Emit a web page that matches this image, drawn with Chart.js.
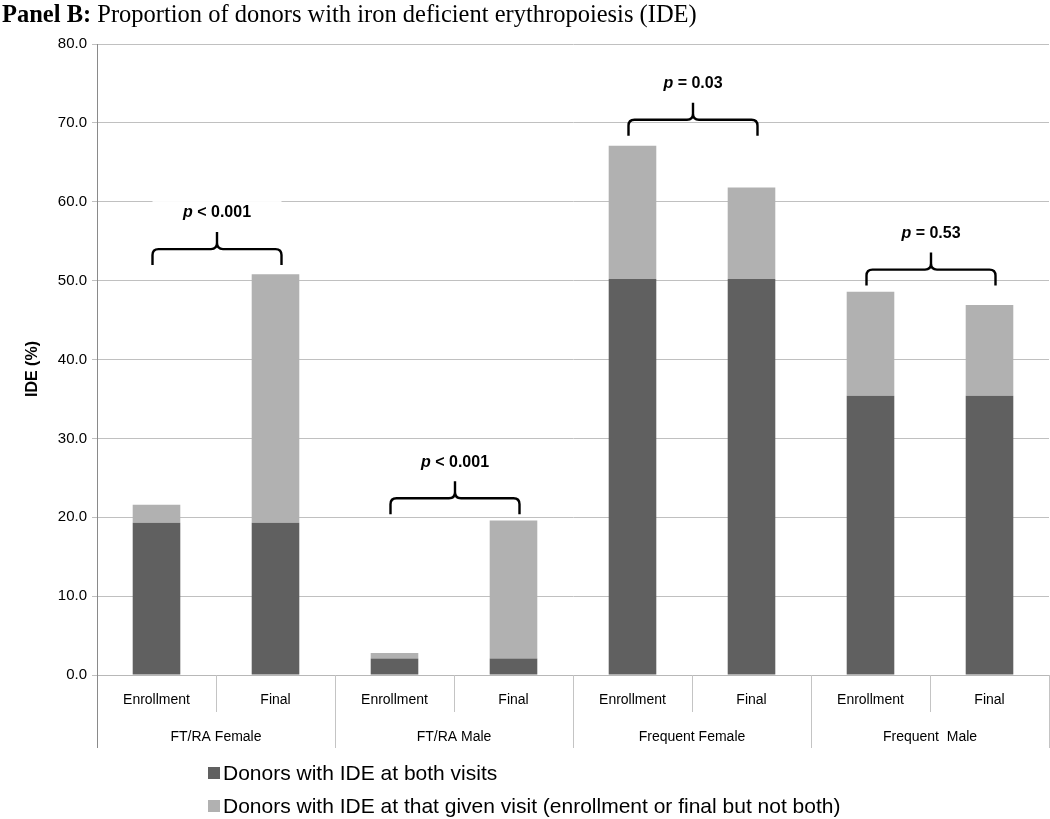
<!DOCTYPE html>
<html>
<head>
<meta charset="utf-8">
<script src="https://cdn.jsdelivr.net/npm/chart.js@4.4.1/dist/chart.umd.min.js"></script>
<style>
  body { margin: 0; background: #fff; }
  #wrap { width: 1050px; height: 819px; position: relative; }
</style>
</head>
<body>
<div id="wrap"><canvas id="ide"></canvas></div>
<script>
'use strict';

// visits on the x axis, groups below them
const visits = ['Enrollment', 'Final', 'Enrollment', 'Final', 'Enrollment', 'Final', 'Enrollment', 'Final'];
const groups = ['FT/RA Female', 'FT/RA Male', 'Frequent Female', 'Frequent  Male'];

// stacked parts (%)
const bothVisits = [19.3, 19.3, 2.1, 2.1, 50.2, 50.2, 35.4, 35.4];
const givenVisit = [2.3, 31.5, 0.7, 17.5, 16.9, 11.6, 13.2, 11.5];

const seriesNames = [
  'Donors with IDE at both visits',
  'Donors with IDE at that given visit (enrollment or final but not both)'
];

// p values and bracket level (%) for each group
const pLabels = ['< 0.001', '< 0.001', '= 0.03', '= 0.53'];
const bracketLevels = [54.0, 22.4, 70.4, 51.4];

const yTicks = [0, 10, 20, 30, 40, 50, 60, 70, 80];

const DARK = '#606060';
const LIGHT = '#b1b1b1';
const SANS = '"Liberation Sans", Arial, sans-serif';

const extrasPlugin = {
  id: 'extras',
  afterDraw(chart) {
    const ctx = chart.ctx;
    const x = chart.scales.x;
    const y = chart.scales.y;
    const area = chart.chartArea;
    const step = x.getPixelForValue(1) - x.getPixelForValue(0);

    ctx.save();

    // title
    ctx.textBaseline = 'alphabetic';
    ctx.fillStyle = '#000';
    ctx.font = 'bold 24.5px "Liberation Serif", "Times New Roman", serif';
    ctx.fillText('Panel B:', 2, 22);
    let w = ctx.measureText('Panel B: ').width;
    ctx.font = '24.5px "Liberation Serif", "Times New Roman", serif';
    ctx.fillText('Proportion of donors with iron deficient erythropoiesis (IDE)', 2 + w, 22);

    // y axis title
    ctx.save();
    ctx.translate(33, 369);
    ctx.rotate(-Math.PI / 2);
    ctx.font = 'bold 16px ' + SANS;
    ctx.textAlign = 'center';
    ctx.textBaseline = 'middle';
    ctx.fillText('IDE (%)', 0, 0);
    ctx.restore();

    // separators below the axis
    ctx.strokeStyle = '#c4c4c4';
    ctx.lineWidth = 1;
    for (let i = 0; i <= visits.length; i++) {
      const px = Math.round(x.getPixelForValue(i) - step / 2) + 0.5;
      const long = i % 2 === 0;
      ctx.beginPath();
      ctx.moveTo(px, area.bottom);
      ctx.lineTo(px, area.bottom + (long ? 73 : 37));
      ctx.stroke();
    }
    // left axis line goes down too
    ctx.strokeStyle = '#8a8a8a';
    ctx.beginPath();
    ctx.moveTo(area.left + 0.5, area.bottom);
    ctx.lineTo(area.left + 0.5, area.bottom + 73);
    ctx.stroke();

    // group labels
    ctx.font = '14px ' + SANS;
    ctx.textAlign = 'center';
    ctx.textBaseline = 'middle';
    ctx.fillStyle = '#000';
    groups.forEach((g, i) => {
      const cx = (x.getPixelForValue(i * 2) + x.getPixelForValue(i * 2 + 1)) / 2;
      ctx.fillText(g, cx, area.bottom + 62);
    });

    // brackets with p values
    ctx.strokeStyle = '#000';
    ctx.lineWidth = 2.4;
    ctx.lineJoin = 'round';
    bracketLevels.forEach((lvl, i) => {
      const x0 = x.getPixelForValue(i * 2) - 4;
      const x1 = x.getPixelForValue(i * 2 + 1) + 6;
      const xm = (x0 + x1) / 2;
      const yl = y.getPixelForValue(lvl);
      const r = 6;

      // white box behind the text hides the grid
      ctx.fillStyle = '#fff';
      ctx.fillRect(x0, yl - 48, x1 - x0, 24);

      ctx.beginPath();
      ctx.moveTo(x0, yl + 16);
      ctx.lineTo(x0, yl + r);
      ctx.quadraticCurveTo(x0, yl, x0 + r, yl);
      ctx.lineTo(xm - r, yl);
      ctx.quadraticCurveTo(xm, yl, xm, yl - r);
      ctx.lineTo(xm, yl - 17);
      ctx.moveTo(xm, yl - r);
      ctx.quadraticCurveTo(xm, yl, xm + r, yl);
      ctx.lineTo(x1 - r, yl);
      ctx.quadraticCurveTo(x1, yl, x1, yl + r);
      ctx.lineTo(x1, yl + 16);
      ctx.stroke();

      ctx.fillStyle = '#000';
      ctx.textAlign = 'left';
      ctx.textBaseline = 'middle';
      ctx.font = 'italic bold 16px ' + SANS;
      const pw = ctx.measureText('p ').width;
      ctx.font = 'bold 16px ' + SANS;
      const tw = ctx.measureText(pLabels[i]).width;
      const tx = xm - (pw + tw) / 2;
      ctx.font = 'italic bold 16px ' + SANS;
      ctx.fillText('p', tx, yl - 36);
      ctx.font = 'bold 16px ' + SANS;
      ctx.fillText(pLabels[i], tx + pw, yl - 36);
    });

    // legend
    ctx.font = '21px ' + SANS;
    ctx.textAlign = 'left';
    ctx.textBaseline = 'middle';
    chart.data.datasets.forEach((ds, i) => {
      const ly = 773 + i * 33;
      ctx.fillStyle = ds.backgroundColor;
      ctx.fillRect(208, ly - 6, 12, 12);
      ctx.fillStyle = '#000';
      ctx.fillText(ds.label, 223, ly + 1);
    });

    ctx.restore();
  }
};

new Chart(document.getElementById('ide'), {
  type: 'bar',
  data: {
    labels: visits,
    datasets: [
      { label: seriesNames[0], data: bothVisits, backgroundColor: DARK },
      { label: seriesNames[1], data: givenVisit, backgroundColor: LIGHT }
    ]
  },
  options: {
    responsive: true,
    maintainAspectRatio: false,
    animation: false,
    layout: { padding: { top: 44, left: 0, right: 1, bottom: 0 } },
    datasets: { bar: { barPercentage: 0.4, categoryPercentage: 1 } },
    plugins: {
      legend: { display: false },
      tooltip: { enabled: false }
    },
    scales: {
      x: {
        stacked: true,
        grid: { display: false, drawTicks: false },
        border: { color: '#b8b8b8' },
        ticks: { color: '#000', font: { family: SANS, size: 14 }, padding: 17, maxRotation: 0, autoSkip: false },
        afterFit: (s) => { s.height = 144; }
      },
      y: {
        stacked: true,
        min: 0,
        max: 80,
        afterBuildTicks: (s) => { s.ticks = yTicks.map(v => ({ value: v })); },
        grid: { color: '#c0c0c0', tickLength: 5 },
        border: { color: '#8a8a8a' },
        ticks: { color: '#000', font: { family: SANS, size: 15 }, padding: 5, callback: (v) => v.toFixed(1) },
        afterFit: (s) => { s.width = 97; }
      }
    }
  },
  plugins: [extrasPlugin]
});
</script>
</body>
</html>
